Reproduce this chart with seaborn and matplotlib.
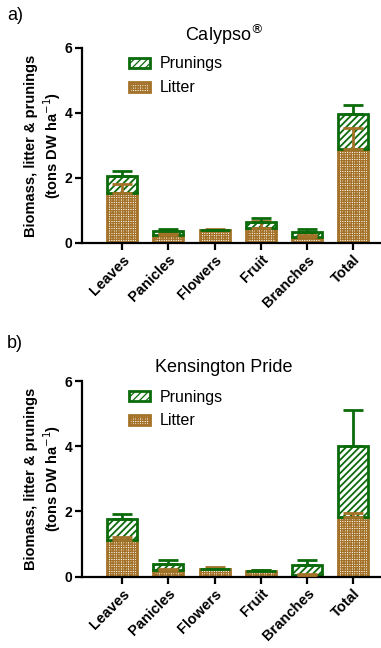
import numpy as np
import pandas as pd
import seaborn as sns
import matplotlib.pyplot as plt
from matplotlib.patches import Patch

parts = ["Leaves", "Panicles", "Flowers", "Fruit", "Branches", "Total"]

# a) Calypso
cal_litter = [1.53, 0.25, 0.40, 0.45, 0.17, 2.88]
cal_litter_err = [0.29, 0.06, 0.03, 0.22, 0.08, 0.67]
cal_prunings = [0.54, 0.12, 0.0, 0.19, 0.18, 1.08]
cal_prunings_err = [0.13, 0.06, 0.0, 0.13, 0.08, 0.30]

# b) Kensington Pride
kp_litter = [1.12, 0.20, 0.25, 0.17, 0.05, 1.82]
kp_litter_err = [0.10, 0.04, 0.05, 0.03, 0.02, 0.12]
kp_prunings = [0.64, 0.19, 0.0, 0.02, 0.32, 2.19]
kp_prunings_err = [0.16, 0.12, 0.0, 0.01, 0.15, 1.10]

brown = "#a47228"
green = "#0b6b0b"
litter_hatch = "+++++++"
prun_hatch = "/////"

sns.set_style("ticks")
plt.rcParams["font.family"] = ["Liberation Sans", "DejaVu Sans"]
plt.rcParams["text.color"] = "black"
plt.rcParams["xtick.color"] = "black"
plt.rcParams["ytick.color"] = "black"
plt.rcParams["axes.labelcolor"] = "black"
plt.rcParams["axes.edgecolor"] = "black"

fig = plt.figure(figsize=(3.81, 6.48), dpi=100)
ax1 = fig.add_axes([0.215, 0.625, 0.785, 0.301])
ax2 = fig.add_axes([0.215, 0.110, 0.785, 0.302])


def panel(ax, litter, litter_err, prunings, prunings_err, title, tag, tag_y):
    df = pd.DataFrame({"part": parts, "litter": litter, "prunings": prunings})
    plt.rcParams["hatch.linewidth"] = 0.9
    sns.barplot(data=df, x="part", y="litter", ax=ax, color="white",
                edgecolor=brown, linewidth=2, hatch=litter_hatch, width=0.65,
                errorbar=None, saturation=1)
    plt.rcParams["hatch.linewidth"] = 1.3
    sns.barplot(data=df, x="part", y="prunings", ax=ax, color="white",
                edgecolor=green, linewidth=2, hatch=prun_hatch, width=0.65,
                errorbar=None, saturation=1, bottom=df["litter"])
    x = np.arange(len(parts))
    lit = np.array(litter)
    tot = lit + np.array(prunings)
    ax.errorbar(x, lit, yerr=[np.zeros(len(x)), litter_err], fmt="none",
                ecolor=brown, elinewidth=2, capsize=7, capthick=2, zorder=5)
    ax.errorbar(x, tot, yerr=[np.zeros(len(x)), prunings_err], fmt="none",
                ecolor=green, elinewidth=2, capsize=7, capthick=2, zorder=5)

    ax.set_ylim(0, 6)
    ax.set_yticks([0, 2, 4, 6])
    ax.set_xlim(-0.87, 5.6)
    ax.set_xlabel("")
    ax.set_ylabel("Biomass, litter & prunings\n(tons DW ha$^{-1}$)",
                  fontsize=10.5, fontweight="bold", labelpad=1)
    for s in ["top", "right"]:
        ax.spines[s].set_visible(False)
    for s in ["left", "bottom"]:
        ax.spines[s].set_linewidth(1.6)
    ax.tick_params(axis="both", width=1.6, length=5, labelsize=10, pad=2)
    for lab in ax.get_yticklabels():
        lab.set_fontweight("bold")
    ax.set_xticks(x)
    ax.set_xticklabels(parts, rotation=45, ha="right", rotation_mode="anchor",
                       fontweight="bold", fontsize=10.5)
    ax.text(0.475, 1.07, title, transform=ax.transAxes, ha="center",
            va="center", fontsize=13)
    ax.text(-0.25, tag_y, tag, transform=ax.transAxes, ha="left",
            va="center", fontsize=13)
    plt.rcParams["hatch.linewidth"] = 1.3
    h1 = Patch(facecolor="white", edgecolor=green, hatch=prun_hatch, linewidth=2)
    plt.rcParams["hatch.linewidth"] = 0.9
    h2 = Patch(facecolor="white", edgecolor=brown, hatch=litter_hatch, linewidth=2)
    ax.legend([h1, h2], ["Prunings", "Litter"], loc="upper left",
              bbox_to_anchor=(0.11, 1.03), frameon=False, fontsize=11.5,
              handlelength=1.3, handleheight=0.6, handletextpad=0.6,
              labelspacing=0.55)


panel(ax1, cal_litter, cal_litter_err, cal_prunings, cal_prunings_err,
      "Calypso$^{®}$", "a)", 1.165)
panel(ax2, kp_litter, kp_litter_err, kp_prunings, kp_prunings_err,
      "Kensington Pride", "b)", 1.19)

fig.savefig("out.png", dpi=100)
